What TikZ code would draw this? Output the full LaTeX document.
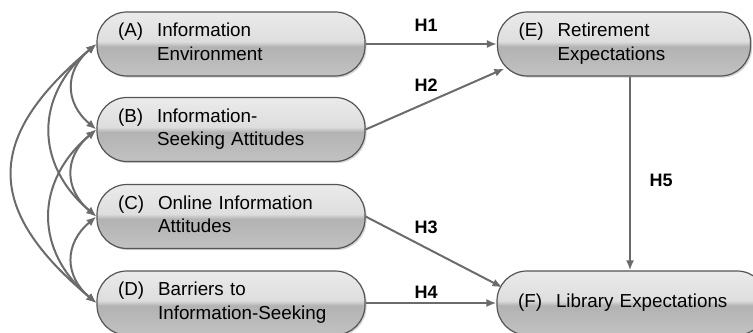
\documentclass[tikz,border=0pt]{standalone}
\usepackage{fontspec}
\setmainfont{Liberation Sans}
\usetikzlibrary{arrows.meta}
\usetikzlibrary{shadows}
\definecolor{linegray}{HTML}{6B6B6B}
\definecolor{edgegray}{HTML}{555555}
\pgfdeclareverticalshading{pillshade}{100bp}{color(0bp)=(black!24); color(25bp)=(black!24); color(48bp)=(black!30); color(52bp)=(black!13); color(75bp)=(black!8); color(100bp)=(black!8)}
\tikzset{
	pillstyle/.style={rectangle, rounded corners=15pt, draw=edgegray, line width=0.6pt, shade, shading=pillshade,
		minimum height=32pt, inner xsep=10.5pt, inner ysep=2pt, align=left,
		font=\fontsize{9.4}{11.75}\selectfont,
		drop shadow={shadow xshift=0.8pt, shadow yshift=-0.8pt, opacity=0.35}},
	hypstyle/.style={font=\fontsize{9}{11}\selectfont\bfseries},
	pathstyle/.style={draw=linegray, line width=1pt, -{Latex[length=5pt,width=4pt]}},
	covstyle/.style={draw=linegray, line width=1pt, {Latex[length=5pt,width=4pt]}-{Latex[length=5pt,width=4pt]}}
}
\newcommand{\boxtext}[2]{\begin{tabular}{@{}l@{\hspace{7pt}}l@{}}#1 & #2\end{tabular}}

\begin{document}
\begin{tikzpicture}[x=0.5pt, y=0.5pt]
	\useasboundingbox (0,0) rectangle (753,332);
	\node[pillstyle, text width=113pt] (a) at (231,288) {\boxtext{(A)}{Information\\ & Environment}};
	\node[pillstyle, text width=113pt] (b) at (231,202.5) {\boxtext{(B)}{Information-\\ & Seeking Attitudes}};
	\node[pillstyle, text width=113pt] (c) at (231,115.5) {\boxtext{(C)}{Online Information\\ & Attitudes}};
	\node[pillstyle, text width=113pt] (d) at (231,29) {\boxtext{(D)}{Barriers to\\ & Information-Seeking}};
	\node[pillstyle, text width=105.5pt] (e) at (624,288) {\boxtext{(E)}{Retirement\\ & Expectations}};
	\node[pillstyle, text width=114pt] (f) at (632,29) {\boxtext{(F)}{Library Expectations}};
	% hypotheses
	\draw[pathstyle] (a.east) -- (e.west);
	\draw[pathstyle] (b.east) -- ([shift={(3.75pt,4pt)}]e.south west);
	\draw[pathstyle] (c.east) -- ([shift={(3pt,-8.5pt)}]f.north west);
	\draw[pathstyle] (d.east) -- (f.west);
	\draw[pathstyle] ([xshift=3pt]e.south) -- ([xshift=-1pt]f.north);
	\node[hypstyle] (h1) at (426,307) {H1};
	\node[hypstyle] (h2) at (426,246.5) {H2};
	\node[hypstyle] (h3) at (426,104.5) {H3};
	\node[hypstyle] (h4) at (426,40) {H4};
	\node[hypstyle] (h5) at (661,151.5) {H5};
	% correlations
	\draw[covstyle] (a.west) to[out=220, in=140, looseness=1.25] (b.west);
	\draw[covstyle] (b.west) to[out=220, in=140, looseness=1.25] (c.west);
	\draw[covstyle] (c.west) to[out=220, in=140, looseness=1.25] (d.west);
	\draw[covstyle] (a.west) to[out=220, in=140, looseness=1.2] (c.west);
	\draw[covstyle] (b.west) to[out=220, in=140, looseness=1.2] (d.west);
	\draw[covstyle] (a.west) to[out=220, in=140, looseness=1.45] (d.west);
\end{tikzpicture}
\end{document}
